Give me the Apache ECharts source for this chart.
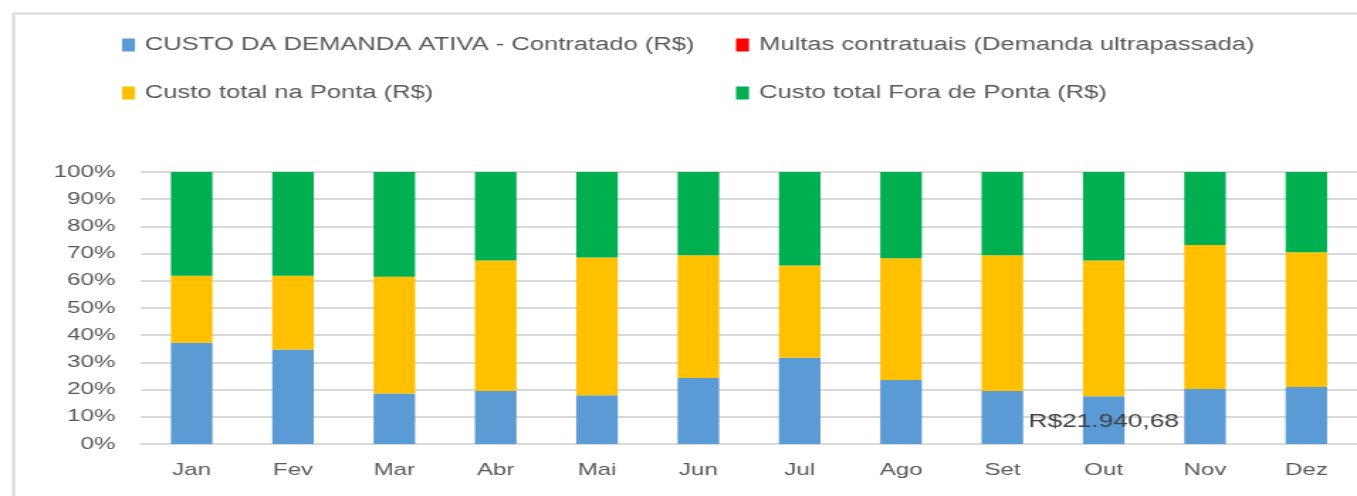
<!DOCTYPE html>
<html>
<head>
<meta charset="utf-8">
<script src="https://cdn.jsdelivr.net/npm/echarts@6/dist/echarts.min.js"></script>
<style>
  html, body { margin: 0; padding: 0; background: #fff; overflow: hidden; }
  /* o grafico original esta esticado na horizontal */
  #chart { width: 956px; height: 496px; transform: scaleX(1.4195); transform-origin: 0 0; }
</style>
</head>
<body>
<div id="chart"></div>
<script>
// dados (% do custo total por mes)
const meses = ['Jan', 'Fev', 'Mar', 'Abr', 'Mai', 'Jun', 'Jul', 'Ago', 'Set', 'Out', 'Nov', 'Dez'];
const demandaAtiva = [37.2, 34.7, 18.6, 19.5, 17.9, 24.3, 31.7, 23.5, 19.5, 17.6, 20.2, 21.0];
const multas = [0, 0, 0, 0, 0, 0, 0, 0, 0, 0, 0, 0];
const custoPonta = [24.7, 27.2, 42.9, 48.0, 50.7, 45.1, 33.9, 44.8, 49.9, 49.9, 53.0, 49.5];
const custoForaPonta = [38.1, 38.1, 38.5, 32.5, 31.4, 30.6, 34.4, 31.7, 30.6, 32.5, 26.8, 29.5];
const rotulosDemanda = ['', '', '', '', '', '', '', '', '', 'R$21.940,68', '', ''];
const ticksY = ['0%', '10%', '20%', '30%', '40%', '50%', '60%', '70%', '80%', '90%', '100%'];

const S = 1.4195; // fator de esticamento horizontal
const fonte = 'Liberation Sans';
const cinza = '#595959';

let myChart = echarts.init(document.getElementById('chart'));

const legendaBase = {
    orient: 'vertical',
    top: 36,
    padding: 0,
    itemWidth: 13 / S,
    itemHeight: 13,
    itemGap: 30,
    icon: 'rect',
    selectedMode: false,
    textStyle: {fontFamily: fonte, fontSize: 18, color: cinza, padding: [0, 0, 0, 2]}
};

myChart.setOption({
    animation: false,
    backgroundColor: '#fff',
    // moldura do grafico
    graphic: [{
        type: 'rect',
        left: 10 / S,
        top: 11,
        shape: {width: 2000, height: 1000},
        style: {fill: 'none', stroke: '#d9d9d9', lineWidth: 2}
    }],
    legend: [
        Object.assign({}, legendaBase, {
            left: 122 / S,
            data: ['CUSTO DA DEMANDA ATIVA - Contratado (R$)', 'Custo total na Ponta (R$)']
        }),
        Object.assign({}, legendaBase, {
            left: 736 / S,
            data: ['Multas contratuais (Demanda ultrapassada)', 'Custo total Fora de Ponta (R$)']
        })
    ],
    grid: {left: 141 / S, right: -11 / S, top: 172, bottom: 52, containLabel: false},
    xAxis: {
        type: 'category',
        data: meses,
        axisTick: {show: false},
        axisLine: {lineStyle: {color: '#d9d9d9', width: 2}},
        axisLabel: {fontFamily: fonte, fontSize: 17, color: cinza, margin: 18}
    },
    yAxis: {
        type: 'value',
        min: 0,
        max: 100,
        interval: 10,
        axisLine: {show: false},
        axisTick: {show: false},
        splitLine: {lineStyle: {color: '#d9d9d9', width: 2}},
        axisLabel: {
            fontFamily: fonte, fontSize: 17, color: cinza, margin: 18,
            formatter: v => ticksY[Math.round(v / 10)]
        }
    },
    series: [
        {
            name: 'CUSTO DA DEMANDA ATIVA - Contratado (R$)',
            type: 'bar', stack: 'total', barWidth: '41%',
            color: '#5B9BD5',
            data: demandaAtiva,
            label: {
                show: true, position: 'inside', offset: [0, 2],
                fontFamily: fonte, fontSize: 18.5, color: '#404040',
                formatter: p => rotulosDemanda[p.dataIndex]
            }
        },
        {
            name: 'Multas contratuais (Demanda ultrapassada)',
            type: 'bar', stack: 'total', barWidth: '41%',
            color: '#FF0000',
            data: multas
        },
        {
            name: 'Custo total na Ponta (R$)',
            type: 'bar', stack: 'total', barWidth: '41%',
            color: '#FFC000',
            data: custoPonta
        },
        {
            name: 'Custo total Fora de Ponta (R$)',
            type: 'bar', stack: 'total', barWidth: '41%',
            color: '#00B050',
            data: custoForaPonta
        }
    ]
});
</script>
</body>
</html>
